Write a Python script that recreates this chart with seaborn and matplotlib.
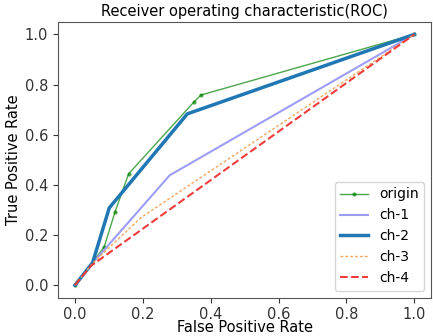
import matplotlib
matplotlib.use('Agg')
import matplotlib.pyplot as plt
import seaborn as sns

# ROC points
fpr_origin = [0.0, 0.086, 0.118, 0.158, 0.351, 0.371, 1.0]
tpr_origin = [0.0, 0.152, 0.292, 0.444, 0.731, 0.758, 1.0]

fpr_ch1 = [0.0, 0.05, 0.279, 1.0]
tpr_ch1 = [0.0, 0.085, 0.438, 1.0]

fpr_ch2 = [0.0, 0.052, 0.101, 0.331, 1.0]
tpr_ch2 = [0.0, 0.09, 0.308, 0.683, 1.0]

fpr_ch3 = [0.0, 0.05, 0.194, 1.0]
tpr_ch3 = [0.0, 0.085, 0.269, 1.0]

fpr_ch4 = [0.0, 0.047, 1.0]
tpr_ch4 = [0.0, 0.077, 1.0]

fig = plt.figure(figsize=(4.33, 3.36), dpi=100)
ax = fig.add_axes([0.134, 0.114, 0.862, 0.821])

sns.lineplot(x=fpr_origin, y=tpr_origin, ax=ax, color='green', marker='.',
             markersize=6, markeredgewidth=0, linewidth=1, alpha=0.7,
             label='origin', sort=False)
sns.lineplot(x=fpr_ch1, y=tpr_ch1, ax=ax, color='#9d9df7', linewidth=1.5,
             label='ch-1', sort=False)
sns.lineplot(x=fpr_ch2, y=tpr_ch2, ax=ax, color='#1f77b4', linewidth=2.5,
             label='ch-2', sort=False)
sns.lineplot(x=fpr_ch3, y=tpr_ch3, ax=ax, color='#f5a65b', linewidth=1,
             linestyle=(0, (2, 1.5)), label='ch-3', sort=False)
sns.lineplot(x=fpr_ch4, y=tpr_ch4, ax=ax, color='#f03c3c', linewidth=1.5,
             linestyle='--', label='ch-4', sort=False)

ax.set_xlim(-0.05, 1.05)
ax.set_ylim(-0.05, 1.05)
ax.set_xticks([0.0, 0.2, 0.4, 0.6, 0.8, 1.0])
ax.set_yticks([0.0, 0.2, 0.4, 0.6, 0.8, 1.0])
ax.tick_params(labelsize=10.5, colors='#333333')
ax.tick_params(axis='x', pad=3)
for s in ax.spines.values():
    s.set_color('#555555')
ax.set_xlabel('False Positive Rate', fontsize=10.5, labelpad=-1)
ax.set_ylabel('True Positive Rate', fontsize=10.5, labelpad=3)
ax.set_title('Receiver operating characteristic(ROC)', fontsize=10.5, pad=4)
ax.legend(loc='lower right', fontsize=10)

fig.savefig('out.png', dpi=100)
